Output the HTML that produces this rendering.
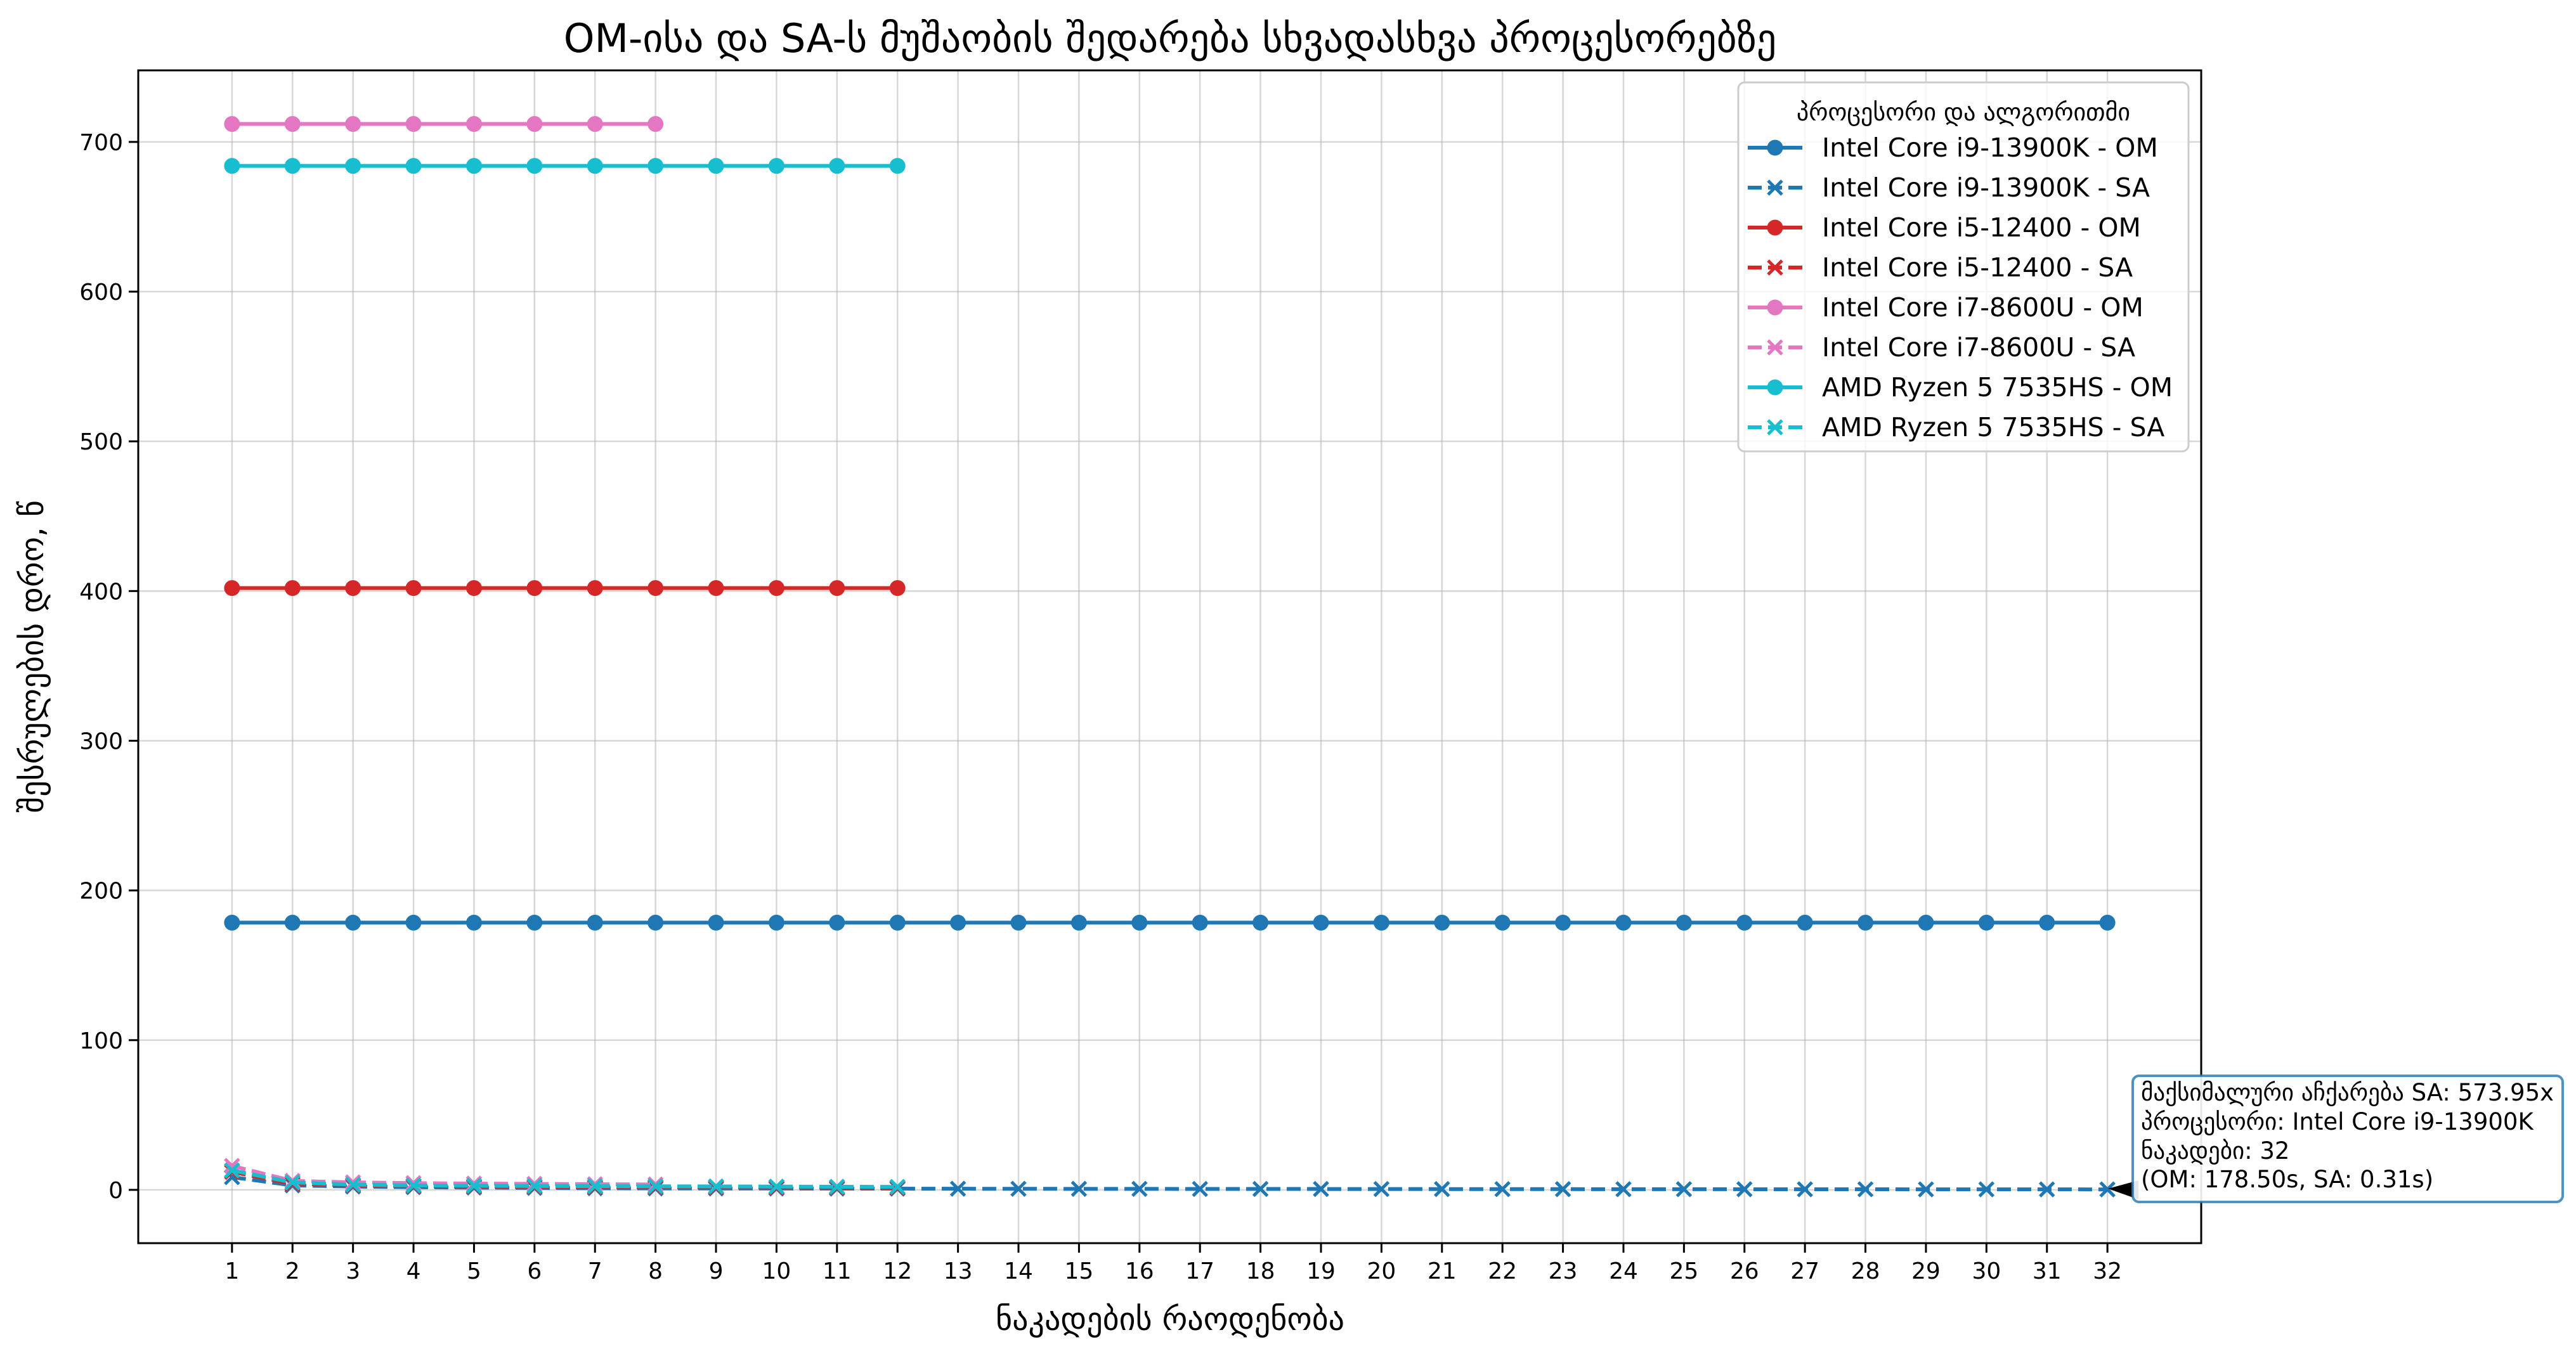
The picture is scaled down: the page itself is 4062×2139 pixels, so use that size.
<!DOCTYPE html>
<html><head><meta charset="utf-8">
<style>
html,body{margin:0;padding:0;background:#fff;}
svg{display:block;font-family:"DejaVu Sans","Liberation Sans",sans-serif;}
</style></head>
<body>
<svg id="chart" width="4062" height="2139" viewBox="0 0 4062 2139" xmlns="http://www.w3.org/2000/svg">
<rect width="4062" height="2139" fill="#fff"/>
<g id="grid"></g>
<g id="series"></g>
<rect x="218" y="111" width="3253" height="1850" fill="none" stroke="#000" stroke-width="3"/>
<g id="ticks"></g>
<text x="1845" y="82" font-size="62" text-anchor="middle">OM-ისა და SA-ს მუშაობის შედარება სხვადასხვა პროცესორებზე</text>
<text x="1845" y="2098" font-size="50" text-anchor="middle">ნაკადების რაოდენობა</text>
<text transform="translate(68,1036) rotate(-90)" font-size="50" text-anchor="middle">შესრულების დრო, წ</text>
<g id="legend">
<rect x="2741" y="130" width="710" height="582" rx="10" fill="#fff" fill-opacity="0.8" stroke="#ccc" stroke-width="3"/>
<text x="3096" y="190" font-size="38" text-anchor="middle">პროცესორი და ალგორითმი</text>
</g>
<g id="annot">
<polygon points="3324,1875 3372,1862 3372,1892" fill="#000"/>
<rect x="3363" y="1697" width="678" height="199" rx="10" fill="#fff" fill-opacity="0.9" stroke="#1f77b4" stroke-opacity="0.8" stroke-width="4"/>
<text x="3376" y="1736" font-size="37">მაქსიმალური აჩქარება SA: 573.95x</text>
<text x="3376" y="1782" font-size="37">პროცესორი: Intel Core i9-13900K</text>
<text x="3376" y="1828" font-size="37">ნაკადები: 32</text>
<text x="3376" y="1873" font-size="37">(OM: 178.50s, SA: 0.31s)</text>
</g>
</svg>
<script>
const xTicks = [1,2,3,4,5,6,7,8,9,10,11,12,13,14,15,16,17,18,19,20,21,22,23,24,25,26,27,28,29,30,31,32];
const yTicks = [0,100,200,300,400,500,600,700];
const seriesNames = ["Intel Core i9-13900K - OM","Intel Core i9-13900K - SA","Intel Core i5-12400 - OM","Intel Core i5-12400 - SA","Intel Core i7-8600U - OM","Intel Core i7-8600U - SA","AMD Ryzen 5 7535HS - OM","AMD Ryzen 5 7535HS - SA"];
const i9OM = [178.5,178.5,178.5,178.5,178.5,178.5,178.5,178.5,178.5,178.5,178.5,178.5,178.5,178.5,178.5,178.5,178.5,178.5,178.5,178.5,178.5,178.5,178.5,178.5,178.5,178.5,178.5,178.5,178.5,178.5,178.5,178.5];
const i9SA = [8.5,3,2.2,1.8,1.5,1.3,1.1,1.0,0.95,0.9,0.85,0.8,0.75,0.7,0.68,0.65,0.62,0.6,0.58,0.55,0.52,0.5,0.48,0.46,0.44,0.42,0.4,0.38,0.36,0.34,0.32,0.31];
const i5OM = [402,402,402,402,402,402,402,402,402,402,402,402];
const i5SA = [12,4,3,2.5,2.2,2,1.8,1.7,1.6,1.5,1.4,1.3];
const i7OM = [712,712,712,712,712,712,712,712];
const i7SA = [16,6,5,4.5,4.2,4,3.8,3.6];
const amdOM = [684,684,684,684,684,684,684,684,684,684,684,684];
const amdSA = [13,5,3.5,3,2.8,2.6,2.5,2.4,2.3,2.2,2.1,2];

const NS="http://www.w3.org/2000/svg";
const L=218,R=3471,T=111,B=1961;
const xMin=-0.55,xMax=33.55,yMin=-35.6,yMax=747.8;
function xs(v){return L+(v-xMin)/(xMax-xMin)*(R-L);}
function ys(v){return B-(v-yMin)/(yMax-yMin)*(B-T);}
function mk(tag,attrs,parent){const e=document.createElementNS(NS,tag);for(const k in attrs)e.setAttribute(k,attrs[k]);parent.appendChild(e);return e;}
const grid=document.getElementById('grid'),ticks=document.getElementById('ticks'),ser=document.getElementById('series'),leg=document.getElementById('legend');
xTicks.forEach(v=>{
  const g=mk('line',{x1:xs(v),x2:xs(v),y1:T,y2:B,stroke:'#b0b0b0','stroke-opacity':0.5,'stroke-width':2.5},grid);
  
  
  const t=mk('line',{x1:xs(v),x2:xs(v),y1:B,y2:B+15,stroke:'#000','stroke-width':3},ticks);
  
  
  const l=mk('text',{x:xs(v),y:B+56,'font-size':36,'text-anchor':'middle'},ticks);
  
  
  l.textContent=v;
});
yTicks.forEach(v=>{
  const g=mk('line',{x1:L,x2:R,y1:ys(v),y2:ys(v),stroke:'#b0b0b0','stroke-opacity':0.5,'stroke-width':2.5},grid);
  
  
  const t=mk('line',{x1:L-15,x2:L,y1:ys(v),y2:ys(v),stroke:'#000','stroke-width':3},ticks);
  
  
  const l=mk('text',{x:L-24,y:ys(v)+13,'font-size':36,'text-anchor':'end'},ticks);
  
  
  l.textContent=v;
});
const colors=['#1f77b4','#1f77b4','#d62728','#d62728','#e377c2','#e377c2','#17becf','#17becf'];
const datas=[i9OM,i9SA,i5OM,i5SA,i7OM,i7SA,amdOM,amdSA];
function marker(parent,x,y,isSA,c){
  if(!isSA){const m=mk('circle',{cx:x,cy:y,r:12.5,fill:c},parent);
    
    }
  else{const m=mk('path',{d:`M${x-11},${y-11}L${x+11},${y+11}M${x-11},${y+11}L${x+11},${y-11}`,stroke:c,'stroke-width':5,fill:'none'},parent);
    
    }
}
datas.forEach((d,i)=>{
  const isSA=i%2===1,c=colors[i];
  const g=mk('g',{},ser);
  
  
  const pts=d.map((v,j)=>xs(xTicks[j])+','+ys(v)).join(' ');
  const pl=mk('polyline',{points:pts,fill:'none',stroke:c,'stroke-width':6,'stroke-dasharray':isSA?'22,10':'none'},g);
  
  
  d.forEach((v,j)=>marker(g,xs(xTicks[j]),ys(v),isSA,c));
  const y=233+i*63;
  const lg=mk('g',{},leg);
  
  
  const ll=mk('line',{x1:2756,x2:2842,y1:y,y2:y,stroke:c,'stroke-width':6,'stroke-dasharray':isSA?'22,10':'none'},lg);
  
  
  marker(lg,2799,y,isSA,c);
  const lt=mk('text',{x:2873,y:y+14,'font-size':41},lg);
  
  
  lt.textContent=seriesNames[i];
});
</script>
</body></html>
